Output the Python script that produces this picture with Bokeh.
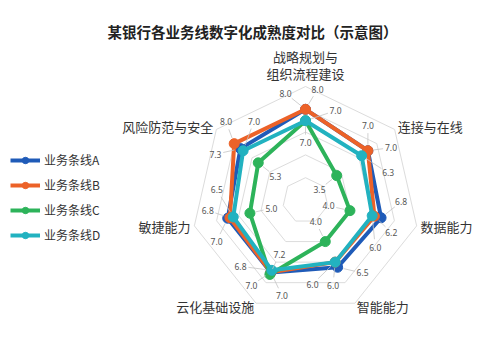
import numpy as np
from bokeh.plotting import figure
from bokeh.models import ColumnDataSource, Legend, LegendItem, Label
from bokeh.core.properties import value
from bokeh.embed import file_html
from bokeh.resources import INLINE

# ---------------- data ----------------
categories = ["战略规划与\n组织流程建设", "连接与在线", "数据能力", "智能能力",
              "云化基础设施", "敏捷能力", "风险防范与安全"]
series_names = ["业务条线A", "业务条线B", "业务条线C", "业务条线D"]
a_vals = [8.0, 7.0, 6.8, 6.5, 7.0, 7.0, 7.3]
b_vals = [8.0, 7.0, 6.2, 6.0, 7.0, 6.8, 8.0]
c_vals = [7.0, 3.5, 4.0, 4.0, 7.2, 5.0, 5.3]
d_vals = [7.0, 6.3, 6.0, 6.0, 6.8, 6.5, 7.0]
ring_levels = [2, 4, 6, 8, 10]

# ---------------- style ----------------
colors = ["#1f5bb8", "#ec6228", "#2db35a", "#22b2c0"]
# (radial shift, tangential shift) of value labels, px
label_offsets = [(16, 20), (20, -12), (-22, 0), (10, -30)]
UNIT = 11.4          # px per value unit
LABEL_R = 118        # radius of category labels
LINE_STEP = 17       # px between lines of a multi-line category label
W, H = 500, 353
CX, CY = 305, 200    # radar centre in screen px (from top-left)
CJK = "Noto Sans CJK SC"

n = len(categories)
theta = np.pi / 2 - 2 * np.pi * np.arange(n) / n
ux, uy = np.cos(theta), np.sin(theta)
tx, ty = -np.sin(theta), np.cos(theta)

p = figure(width=W, height=H, output_backend="svg", toolbar_location=None,
           x_range=(-CX, W - CX), y_range=(-(H - CY), CY),
           min_border=0, background_fill_color="white",
           border_fill_color="white")
p.axis.visible = False
p.grid.visible = False
p.outline_line_color = None

# grid rings
for lv in ring_levels:
    r = lv * UNIT
    xs = list(r * ux) + [r * ux[0]]
    ys = list(r * uy) + [r * uy[0]]
    p.line(xs, ys, line_color="#dcdcdc", line_width=1)

# category labels
for k, cat in enumerate(categories):
    x, y = LABEL_R * ux[k], LABEL_R * uy[k]
    if abs(ux[k]) < 0.1:
        align, base = "center", "bottom"
    elif ux[k] > 0:
        align, base = "left", "middle"
    else:
        align, base = "right", "middle"
    lines = cat.split("\n")
    m = len(lines)
    for j, line in enumerate(lines):
        if base == "bottom":
            yy = y + (m - 1 - j) * LINE_STEP
        else:
            yy = y + ((m - 1) / 2 - j) * LINE_STEP
        p.text([x], [yy], text=[line], text_align=align, text_baseline=base,
               text_font=value(CJK), text_font_size="13px",
               text_color="#333333")

legend_items = []
all_vals = [a_vals, b_vals, c_vals, d_vals]
for i, (name, vals) in enumerate(zip(series_names, all_vals)):
    v = np.array(vals)
    r = v * UNIT
    px, py = r * ux, r * uy
    src = ColumnDataSource(dict(x=list(px) + [px[0]], y=list(py) + [py[0]]))
    lr = p.line("x", "y", source=src, line_color=colors[i], line_width=4,
                line_join="round")
    sr = p.scatter(px, py, size=10, marker="circle", fill_color=colors[i],
                   line_color=colors[i])
    legend_items.append(LegendItem(label=name, renderers=[lr, sr]))

# value labels with leader lines
for i, vals in enumerate(all_vals):
    v = np.array(vals)
    r = v * UNIT
    px, py = r * ux, r * uy
    dr, dt = label_offsets[i]
    lx = (r + dr) * ux + dt * tx
    ly = (r + dr) * uy + dt * ty
    dx, dy = lx - px, ly - py
    d = np.hypot(dx, dy)
    ex, ey = dx / d, dy / d
    p.segment(px + 6 * ex, py + 6 * ey, lx - 8 * ex, ly - 8 * ey,
              line_color="#c4c4c4", line_width=0.8)
    p.text(lx, ly, text=[f"{x:.1f}" for x in vals], text_align="center",
           text_baseline="middle", text_font=value("Noto Sans"),
           text_font_size="8.5px", text_color="#555555")

legend = Legend(items=legend_items, location=(10, 110), orientation="vertical",
                glyph_width=30, glyph_height=16, label_height=16, spacing=8,
                label_standoff=4, padding=0, margin=0,
                label_text_font=CJK, label_text_font_size="12px",
                label_text_color="#333333", border_line_alpha=0,
                background_fill_alpha=0)
p.add_layout(legend, "center")

title = Label(x=252, y=H - 31, x_units="screen", y_units="screen",
              text="某银行各业务线数字化成熟度对比（示意图）",
              text_align="center", text_baseline="middle",
              text_font=CJK, text_font_size="14.5px", text_font_style="bold",
              text_color="#222222")
p.add_layout(title)

open("out.html", "w").write(file_html(p, INLINE))
